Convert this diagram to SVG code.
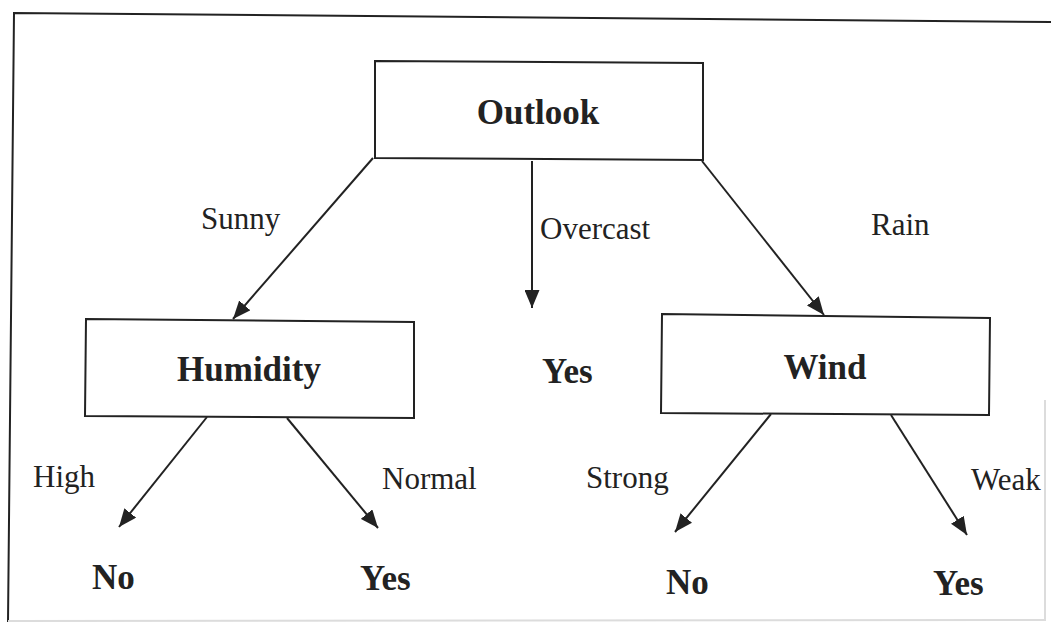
<svg xmlns="http://www.w3.org/2000/svg" width="1051" height="624" viewBox="0 0 1051 624">
  <defs>
    <style>
      .box { fill: #ffffff; stroke: #222222; stroke-width: 2; }
      .edge { fill: none; stroke: #222222; stroke-width: 2; }
      .lbl { font-family: "Liberation Serif", "Times New Roman", serif; font-size: 31px; fill: #222222; }
      .bold { font-family: "Liberation Serif", "Times New Roman", serif; font-size: 35px; font-weight: bold; fill: #222222; }
    </style>
    <marker id="arrow" markerUnits="userSpaceOnUse" markerWidth="19" markerHeight="15" refX="18" refY="7.5" orient="auto">
      <path d="M0,0 L18,7.5 L0,15 z" fill="#222222"/>
    </marker>
  </defs>
  <rect x="0" y="0" width="1051" height="624" fill="#ffffff"/>

  <g id="frame">
    <path d="M8,622 L14,13 L1051,22" fill="none" stroke="#222222" stroke-width="2"/>
    <path d="M8,621 L1045,620 L1045,400" fill="none" stroke="#dcdcdc" stroke-width="2"/>
  </g>

  <g id="connectors">
    <line class="edge" x1="373" y1="158" x2="233" y2="319" marker-end="url(#arrow)"/>
    <line class="edge" x1="532" y1="161" x2="532" y2="308" marker-end="url(#arrow)"/>
    <line class="edge" x1="702" y1="161" x2="824" y2="315" marker-end="url(#arrow)"/>
    <line class="edge" x1="207" y1="417" x2="119" y2="527" marker-end="url(#arrow)"/>
    <line class="edge" x1="287" y1="418" x2="378" y2="528" marker-end="url(#arrow)"/>
    <line class="edge" x1="771" y1="414" x2="675" y2="532" marker-end="url(#arrow)"/>
    <line class="edge" x1="891" y1="415" x2="967" y2="535" marker-end="url(#arrow)"/>
    <text class="lbl" x="201" y="229">Sunny</text>
    <text class="lbl" x="540" y="239">Overcast</text>
    <text class="lbl" x="871" y="235">Rain</text>
    <text class="lbl" x="33" y="487">High</text>
    <text class="lbl" x="382" y="489">Normal</text>
    <text class="lbl" x="586" y="488">Strong</text>
    <text class="lbl" x="971" y="490">Weak</text>
  </g>

  <g id="outlook">
    <polygon class="box" points="375,61 703,63 703,160 375,158"/>
    <text class="bold" x="538" y="124" text-anchor="middle">Outlook</text>
  </g>
  <g id="humidity">
    <polygon class="box" points="86,319 414,322 414,418 85,416"/>
    <text class="bold" x="249" y="381" text-anchor="middle">Humidity</text>
  </g>
  <g id="wind">
    <polygon class="box" points="662,314 990,318 989,415 661,413"/>
    <text class="bold" x="825" y="379" text-anchor="middle">Wind</text>
  </g>
  <g id="yes-overcast">
    <text class="bold" x="542" y="383">Yes</text>
  </g>
  <g id="no-high">
    <text class="bold" x="92" y="589">No</text>
  </g>
  <g id="yes-normal">
    <text class="bold" x="360" y="590">Yes</text>
  </g>
  <g id="no-strong">
    <text class="bold" x="666" y="594">No</text>
  </g>
  <g id="yes-weak">
    <text class="bold" x="933" y="595">Yes</text>
  </g>
</svg>
